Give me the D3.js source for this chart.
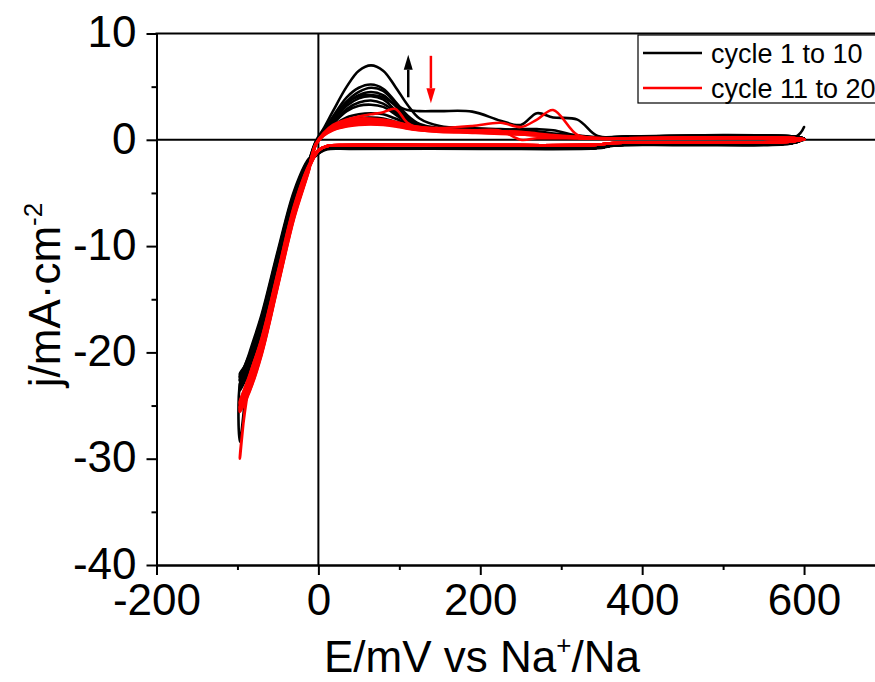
<!DOCTYPE html>
<html><head><meta charset="utf-8">
<script src="https://cdn.jsdelivr.net/npm/d3@7"></script>
<style>
body{margin:0;background:#fff}
svg{display:block}
text{font-family:"Liberation Sans",Arial,Helvetica,sans-serif;fill:#000}
</style>
</head><body>
<svg id="chart" width="875" height="682"></svg>
<script>
// ---------- tick labels ----------
const xTicks = [-200, 0, 200, 400, 600];
const xMinorTicks = [-100, 100, 300, 500, 700];
const yTicks = [10, 0, -10, -20, -30, -40];
const yMinorTicks = [5, -5, -15, -25, -35];
const seriesNames = ["cycle 1 to 10", "cycle 11 to 20"];

// ---------- potential of the scan (mV), cathodic sweep then anodic sweep ----------
const scanE = [600, 585, 450, 365, 345, 200, 40, 10, 0, -12, -30, -50, -70, -85, -97,
               -97, -85, -70, -50, -30, -12, -3, 6, 18, 35, 50, 65, 80, 95, 110, 125, 150, 190, 225, 250, 270, 290, 320, 345, 380, 500, 590, 600];

// ---------- current density (mA/cm2) of each cycle at those potentials ----------
const cycle01 = [0.0, -0.3, -0.45, -0.5, -0.75, -0.8, -0.8, -0.85, -1.1, -1.8, -4.8, -10.4, -16.4, -20.0, -23.0,
                 -28.4, -21.3, -17.2, -11.2, -5.4, -2.0, -0.1, 1.0, 2.7, 5.0, 6.5, 7.0, 6.5, 5.0, 3.3, 2.0, 1.3, 1.1, 1.0, 0.9, 0.8, 0.6, 0.4, 0.25, 0.3, 0.35, 0.3, 1.2];
const cycle02 = [0.1, -0.3, -0.45, -0.5, -0.75, -0.8, -0.8, -0.85, -1.2, -2.0, -5.2, -10.9, -16.9, -20.4, -22.6,
                 -22.7, -21.0, -17.6, -11.6, -5.7, -2.2, -0.3, 0.8, 2.2, 4.0, 4.9, 5.2, 4.8, 3.6, 2.3, 1.5, 1.1, 0.95, 0.9, 0.85, 0.7, 0.55, 0.35, 0.2, 0.3, 0.4, 0.3, 0.1];
const cycle03 = [0.1, -0.35, -0.5, -0.55, -0.8, -0.85, -0.85, -0.9, -1.3, -2.1, -5.5, -11.2, -17.2, -20.7, -23.2,
                 -23.3, -21.4, -17.9, -11.9, -6.0, -2.4, -0.4, 0.7, 2.0, 3.5, 4.1, 4.2, 4.0, 3.3, 2.8, 2.7, 2.7, 2.65, 1.8, 1.4, 2.5, 2.1, 1.9, 0.35, 0.3, 0.4, 0.3, 0.1];
const cycle04 = [0.05, -0.3, -0.45, -0.5, -0.7, -0.8, -0.8, -0.85, -1.2, -1.9, -5.0, -10.6, -16.6, -20.2, -22.3,
                 -22.4, -20.8, -17.3, -11.3, -5.5, -2.1, -0.2, 0.7, 2.0, 3.6, 4.5, 4.9, 4.6, 3.5, 2.2, 1.4, 1.0, 0.9, 0.85, 0.8, 0.7, 0.5, 0.35, 0.2, 0.25, 0.35, 0.3, 0.1];
const cycle05 = [0.1, -0.3, -0.45, -0.5, -0.75, -0.8, -0.8, -0.85, -1.25, -2.1, -5.4, -11.1, -17.1, -20.6, -23.0,
                 -23.1, -21.2, -17.8, -11.8, -5.9, -2.3, -0.3, 0.65, 1.9, 3.4, 4.2, 4.5, 4.2, 3.2, 2.1, 1.4, 1.0, 0.9, 0.85, 0.8, 0.65, 0.5, 0.3, 0.2, 0.25, 0.3, 0.3, 0.1];
const cycle06 = [0.1, -0.3, -0.45, -0.5, -0.75, -0.8, -0.8, -0.85, -1.2, -2.0, -5.3, -11.0, -17.0, -20.5, -22.5,
                 -22.6, -21.0, -17.6, -11.6, -5.8, -2.2, -0.3, 0.6, 1.8, 3.2, 3.9, 4.1, 3.8, 2.8, 1.9, 1.3, 1.0, 0.9, 0.95, 1.0, 1.0, 0.9, 0.4, 0.2, 0.25, 0.45, 0.3, 0.1];
const cycle07 = [0.1, -0.3, -0.45, -0.5, -0.75, -0.8, -0.8, -0.85, -1.15, -1.9, -5.1, -10.7, -16.7, -20.3, -23.5,
                 -23.6, -21.6, -17.6, -11.4, -5.6, -2.1, -0.2, 0.6, 1.6, 2.9, 3.5, 3.7, 3.4, 2.6, 1.7, 1.2, 0.95, 0.85, 0.8, 0.75, 0.6, 0.45, 0.3, 0.2, 0.2, 0.3, 0.25, 0.1];
const cycle08 = [0.1, -0.3, -0.45, -0.5, -0.75, -0.8, -0.8, -0.85, -1.3, -2.2, -5.6, -11.3, -17.3, -20.8, -22.2,
                 -22.3, -21.2, -18.0, -12.0, -6.1, -2.5, -0.4, 0.5, 1.5, 2.7, 3.2, 3.3, 3.1, 2.4, 1.6, 1.1, 0.9, 0.8, 0.8, 0.7, 0.6, 0.45, 0.3, 0.15, 0.2, 0.3, 0.25, 0.1];
const cycle09 = [0.1, -0.3, -0.45, -0.5, -0.75, -0.8, -0.8, -0.85, -1.2, -2.0, -5.2, -10.8, -16.8, -20.4, -23.3,
                 -23.4, -21.3, -17.7, -11.7, -5.8, -2.2, -0.3, 0.5, 1.3, 2.1, 2.4, 2.5, 2.4, 2.0, 1.5, 1.1, 0.9, 0.8, 0.75, 0.7, 0.55, 0.4, 0.3, 0.15, 0.2, 0.3, 0.25, 0.1];
const cycle10 = [0.1, -0.3, -0.45, -0.5, -0.75, -0.8, -0.8, -0.85, -1.25, -2.1, -5.4, -11.1, -17.1, -20.6, -22.0,
                 -22.1, -20.9, -17.9, -11.9, -5.9, -2.3, -0.35, 0.45, 1.2, 1.8, 2.05, 2.1, 2.0, 1.7, 1.3, 1.0, 0.85, 0.8, 0.75, 0.7, 0.55, 0.4, 0.25, 0.15, 0.2, 0.3, 0.25, 0.1];
const cycle11 = [0.05, -0.15, -0.25, -0.3, -0.45, -0.5, -0.5, -0.6, -1.0, -2.5, -6.4, -12.6, -18.8, -22.3, -30.0,
                 -29.8, -23.0, -19.6, -13.2, -6.8, -2.7, -0.4, 0.6, 1.4, 1.9, 2.2, 2.4, 2.6, 2.9, 1.6, 1.05, 0.9, 0.8, 0.8, 0.75, 0.6, 0.45, 0.3, 0.15, 0.15, 0.2, 0.15, 0.05];
const cycle12 = [0.05, -0.15, -0.25, -0.3, -0.45, -0.5, -0.5, -0.6, -1.05, -2.7, -6.8, -13.0, -19.2, -22.7, -25.4,
                 -25.5, -23.5, -20.0, -13.6, -7.2, -2.9, -0.45, 0.5, 1.3, 1.8, 1.9, 1.9, 1.8, 1.6, 1.4, 1.2, 1.1, 1.3, 1.6, 1.2, 1.9, 2.8, 0.45, 0.2, 0.15, 0.2, 0.15, 0.05];
const cycle13 = [0.05, -0.15, -0.25, -0.3, -0.45, -0.5, -0.5, -0.6, -0.95, -2.5, -6.5, -12.7, -18.9, -22.4, -24.8,
                 -24.9, -23.2, -19.7, -13.3, -6.9, -2.7, -0.4, 0.5, 1.3, 1.8, 2.0, 2.0, 1.9, 1.7, 1.4, 1.2, 1.0, 0.9, 0.85, 0.0, 0.15, 0.15, 0.15, 0.1, 0.15, 0.2, 0.15, 0.05];
const cycle14 = [0.05, -0.15, -0.25, -0.3, -0.45, -0.5, -0.5, -0.6, -1.0, -2.6, -6.6, -12.8, -19.0, -22.5, -25.0,
                 -25.2, -23.3, -19.8, -13.4, -7.0, -2.8, -0.4, 0.5, 1.2, 1.7, 1.9, 1.9, 1.8, 1.6, 1.3, 1.1, 0.95, 0.85, 0.8, 0.7, 0.55, 0.4, 0.25, 0.15, 0.15, 0.2, 0.15, 0.05];
const cycle15 = [0.05, -0.15, -0.25, -0.3, -0.45, -0.5, -0.5, -0.6, -1.05, -2.7, -6.9, -13.1, -19.3, -22.8, -25.3,
                 -25.4, -23.6, -20.1, -13.7, -7.3, -2.9, -0.45, 0.45, 1.1, 1.6, 1.8, 1.8, 1.7, 1.5, 1.25, 1.05, 0.9, 0.8, 0.75, 0.65, 0.5, 0.35, 0.2, 0.1, 0.15, 0.2, 0.15, 0.05];
const cycle16 = [0.05, -0.15, -0.25, -0.3, -0.45, -0.5, -0.5, -0.6, -0.95, -2.5, -6.3, -12.5, -18.7, -22.2, -24.6,
                 -24.7, -23.0, -19.5, -13.1, -6.7, -2.6, -0.35, 0.45, 1.1, 1.5, 1.7, 1.7, 1.6, 1.45, 1.2, 1.0, 0.85, 0.8, 0.7, 0.6, 0.5, 0.35, 0.2, 0.1, 0.15, 0.2, 0.15, 0.05];
const cycle17 = [0.05, -0.15, -0.25, -0.3, -0.45, -0.5, -0.5, -0.6, -1.0, -2.7, -6.8, -13.0, -19.2, -22.6, -25.1,
                 -25.2, -23.4, -19.9, -13.5, -7.1, -2.8, -0.4, 0.4, 1.0, 1.45, 1.6, 1.65, 1.55, 1.4, 1.15, 1.0, 0.85, 0.75, 0.7, 0.6, 0.45, 0.3, 0.2, 0.1, 0.1, 0.15, 0.1, 0.05];
const cycle18 = [0.05, -0.15, -0.25, -0.3, -0.45, -0.5, -0.5, -0.6, -1.05, -2.8, -7.0, -13.2, -19.4, -22.9, -25.5,
                 -25.6, -23.7, -20.2, -13.8, -7.4, -3.0, -0.45, 0.4, 1.0, 1.4, 1.55, 1.6, 1.5, 1.35, 1.1, 0.95, 0.8, 0.75, 0.65, 0.55, 0.45, 0.3, 0.2, 0.1, 0.1, 0.15, 0.1, 0.05];
const cycle19 = [0.05, -0.15, -0.25, -0.3, -0.45, -0.5, -0.5, -0.6, -0.95, -2.4, -6.2, -12.4, -18.6, -22.1, -24.7,
                 -24.8, -22.9, -19.4, -13.0, -6.6, -2.6, -0.35, 0.4, 0.95, 1.3, 1.5, 1.5, 1.45, 1.3, 1.1, 0.9, 0.8, 0.7, 0.6, 0.5, 0.4, 0.3, 0.2, 0.1, 0.1, 0.15, 0.1, 0.0];
const cycle20 = [0.05, -0.15, -0.25, -0.3, -0.45, -0.5, -0.5, -0.6, -1.0, -2.6, -6.6, -12.9, -19.1, -22.6, -25.2,
                 -25.3, -23.4, -19.9, -13.5, -7.1, -2.8, -0.4, 0.35, 0.9, 1.25, 1.4, 1.45, 1.4, 1.25, 1.05, 0.9, 0.75, 0.65, 0.55, 0.5, 0.4, 0.3, 0.15, 0.1, 0.1, 0.15, 0.1, 0.0];

const blackCycles = [cycle01, cycle02, cycle03, cycle04, cycle05, cycle06, cycle07, cycle08, cycle09, cycle10];
const redCycles = [cycle11, cycle12, cycle13, cycle14, cycle15, cycle16, cycle17, cycle18, cycle19, cycle20];

// arrows: potential, start current, end current
const arrowE = [111, 139];
const arrowFrom = [4.0, 7.9];
const arrowTo = [8.0, 3.45];

// ---------- drawing ----------
const colors = ["#000000", "#ff0000"];
const svg = d3.select("#chart");
const L = 156.5, R = 885, T = 33.5, B = 565;
const x = d3.scaleLinear().domain([-200, 700]).range([L, R]);
const y = d3.scaleLinear().domain([-40, 10]).range([B, T]);
const fmt = d => String(d);

// zero lines
svg.append("line").attr("x1", x(0)).attr("x2", x(0)).attr("y1", T).attr("y2", B)
  .attr("stroke", "#000").attr("stroke-width", 2);
svg.append("line").attr("x1", L).attr("x2", R).attr("y1", y(0)).attr("y2", y(0))
  .attr("stroke", "#000").attr("stroke-width", 2);

const line = d3.line().x(d => x(d[0])).y(d => y(d[1])).curve(d3.curveCatmullRom.alpha(0.5));
function drawGroup(cycles, color) {
  svg.append("g").selectAll("path").data(cycles).join("path")
    .attr("d", c => line(scanE.map((e, i) => [e, c[i]])))
    .attr("fill", "none").attr("stroke", color).attr("stroke-width", 2.6)
    .attr("stroke-linejoin", "round").attr("stroke-linecap", "round");
}
drawGroup(blackCycles, colors[0]);
drawGroup(redCycles, colors[1]);

// axes
const fs = 44;
const xAxis = svg.append("g").attr("transform", `translate(0,${B})`)
  .call(d3.axisBottom(x).tickValues(xTicks).tickSize(10).tickPadding(9).tickSizeOuter(0).tickFormat(fmt));
const xMinor = svg.append("g").attr("transform", `translate(0,${B})`)
  .call(d3.axisBottom(x).tickValues(xMinorTicks).tickSize(5).tickSizeOuter(0).tickFormat(""));
const yAxis = svg.append("g").attr("transform", `translate(${L},0)`)
  .call(d3.axisLeft(y).tickValues(yTicks).tickSize(10).tickPadding(10).tickSizeOuter(0).tickFormat(fmt));
const yMinor = svg.append("g").attr("transform", `translate(${L},0)`)
  .call(d3.axisLeft(y).tickValues(yMinorTicks).tickSize(5).tickSizeOuter(0).tickFormat(""));
[xAxis, xMinor, yAxis, yMinor].forEach(g => {
  g.select(".domain").attr("stroke", "#000").attr("stroke-width", 2);
  g.selectAll(".tick line").attr("stroke", "#000").attr("stroke-width", 2);
  g.selectAll(".tick text").attr("font-size", fs).attr("font-family", '"Liberation Sans",Arial,sans-serif').attr("fill", "#000");
});
yAxis.selectAll(".tick text").attr("dy", "0.30em");
// top frame
svg.append("line").attr("x1", L - 1).attr("x2", R).attr("y1", T).attr("y2", T)
  .attr("stroke", "#000").attr("stroke-width", 2);

// axis titles
const xt = svg.append("text").attr("x", 482).attr("y", 672).attr("text-anchor", "middle").attr("font-size", fs);
xt.append("tspan").text("E/mV vs Na");
xt.append("tspan").attr("font-size", 26).attr("dy", -18).text("+");
xt.append("tspan").attr("dy", 18).text("/Na");

const yt = svg.append("text").attr("transform", "translate(60,295) rotate(-90)").attr("text-anchor", "middle").attr("font-size", fs);
yt.append("tspan").text("j/mA·cm");
yt.append("tspan").attr("font-size", 26).attr("dy", -18).text("-2");

// legend
const lg = svg.append("g");
lg.append("rect").attr("x", 638).attr("y", 35).attr("width", 260).attr("height", 68)
  .attr("fill", "#fff").attr("stroke", "#000").attr("stroke-width", 1.2);
seriesNames.forEach((name, i) => {
  const cy = 53 + i * 35;
  lg.append("line").attr("x1", 643).attr("x2", 702).attr("y1", cy).attr("y2", cy)
    .attr("stroke", colors[i]).attr("stroke-width", 2.5);
  lg.append("text").attr("x", 711).attr("y", cy + 9.5).attr("font-size", 27).text(name);
});

// arrows
arrowE.forEach((e, i) => {
  const ax = x(e), y0 = y(arrowFrom[i]), y1 = y(arrowTo[i]);
  const dir = y1 < y0 ? -1 : 1;
  const headLen = 15, headW = 4.5;
  svg.append("line").attr("x1", ax).attr("x2", ax).attr("y1", y0).attr("y2", y1 - dir * headLen)
    .attr("stroke", colors[i]).attr("stroke-width", 2.5);
  svg.append("path")
    .attr("d", `M${ax},${y1} L${ax - headW},${y1 - dir * headLen} L${ax + headW},${y1 - dir * headLen} Z`)
    .attr("fill", colors[i]);
});
</script>
</body></html>
